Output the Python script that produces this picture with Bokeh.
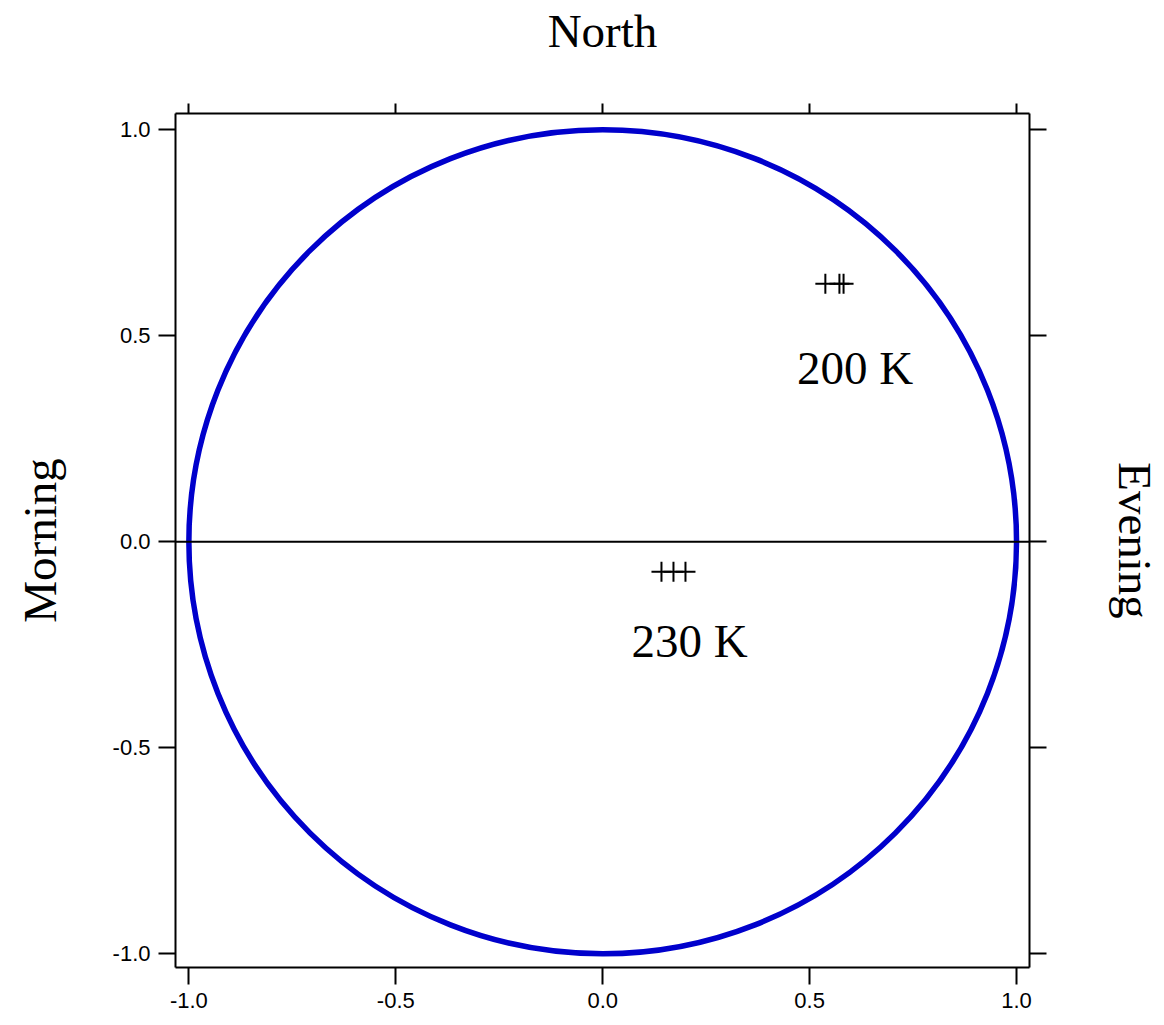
from bokeh.plotting import figure
from bokeh.models import LinearAxis, FixedTicker, Span, Range1d
from bokeh.core.properties import value
from bokeh.embed import file_html
from bokeh.resources import INLINE

# ---- data ----
tick_values = [-1.0, -0.5, 0.0, 0.5, 1.0]
tick_labels = ["-1.0", "-0.5", "0.0", "0.5", "1.0"]
circle_x = [0.0]
circle_y = [0.0]
circle_diameter = [2.0]
x200 = [0.538, 0.572, 0.582]
y200 = [0.626, 0.626, 0.626]
x230 = [0.142, 0.171, 0.200]
y230 = [-0.073, -0.073, -0.073]
label_x = [0.610, 0.210]
label_y = [0.421, -0.240]
label_text = ["200 K", "230 K"]

SERIF = "Liberation Serif"
SANS = "Liberation Sans"

p = figure(width=1164, height=1025, output_backend="svg", toolbar_location=None,
           x_range=Range1d(-1.0323, 1.0313), y_range=Range1d(-1.0328, 1.0388),
           min_border_left=175, min_border_right=135, min_border_top=113,
           min_border_bottom=58)
p.outline_line_color = None
p.xgrid.visible = False
p.ygrid.visible = False
p.background_fill_color = "white"
p.border_fill_color = "white"

overrides = {v: t for v, t in zip(tick_values, tick_labels)}
overrides.update({int(v): t for v, t in zip(tick_values, tick_labels) if float(v).is_integer()})

def style_axis(ax, tick_out, show_labels=True):
    ax.ticker = FixedTicker(ticks=tick_values)
    ax.major_label_overrides = overrides
    ax.major_tick_out = tick_out
    ax.major_tick_in = 0
    ax.minor_tick_out = 0
    ax.minor_tick_in = 0
    ax.axis_line_width = 2
    ax.major_tick_line_width = 2
    ax.axis_line_color = "black"
    ax.major_tick_line_color = "black"
    ax.major_label_text_font = SANS
    ax.major_label_text_font_size = "22px"
    ax.major_label_text_color = "black"
    ax.major_label_standoff = 8
    ax.axis_label_text_font = SERIF
    ax.axis_label_text_font_size = "47px"
    ax.axis_label_text_font_style = "normal"
    ax.axis_label_text_color = "black"
    if not show_labels:
        ax.major_label_text_color = None
        ax.major_label_text_font_size = "1px"
        ax.major_label_standoff = 0

style_axis(p.xaxis[0], 17)
style_axis(p.yaxis[0], 17)
p.yaxis[0].axis_label = "Morning"
p.yaxis[0].axis_label_standoff = 44

top = LinearAxis()
style_axis(top, 10, show_labels=False)
top.axis_label = "North"
top.axis_label_standoff = 47
p.add_layout(top, "above")

right = LinearAxis()
style_axis(right, 17, show_labels=False)
right.axis_label = "Evening"
right.axis_label_standoff = 62
p.add_layout(right, "right")

p.add_layout(Span(location=0, dimension="width", line_color="black", line_width=2))

p.ellipse(x=circle_x, y=circle_y, width=circle_diameter, height=circle_diameter,
          fill_color=None, line_color="#0000CC", line_width=5.5)

p.scatter(x=x200, y=y200, marker="cross", size=20, line_color="black", line_width=2)
p.scatter(x=x230, y=y230, marker="cross", size=20, line_color="black", line_width=2)

p.text(x=label_x, y=label_y, text=label_text, text_font=value(SERIF),
       text_font_size="47px", text_align="center", text_baseline="alphabetic",
       text_color="black")

open("out.html", "w").write(file_html(p, INLINE))
